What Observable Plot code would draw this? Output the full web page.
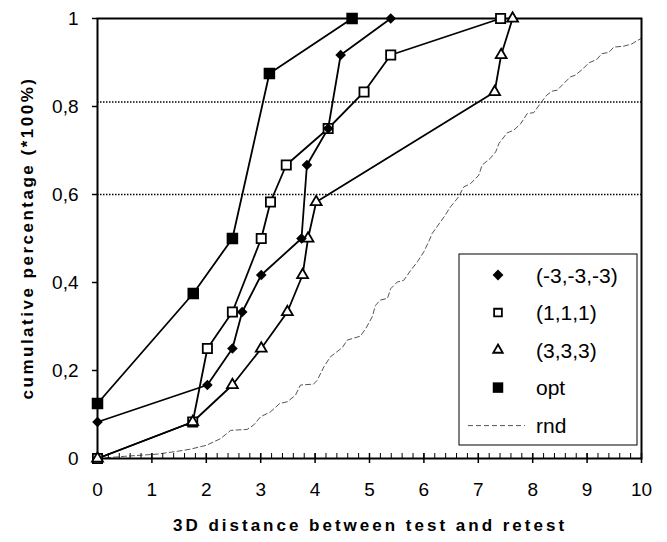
<!DOCTYPE html>
<html><head><meta charset="utf-8">
<script src="https://cdn.jsdelivr.net/npm/d3@7"></script>
<script src="https://cdn.jsdelivr.net/npm/@observablehq/plot@0.6"></script>
<style>
html,body{margin:0;padding:0;background:#fff;}
#chart{width:667px;height:542px;}
</style></head><body><div id="chart"></div>
<script>
// ---- data ----
const seriesNames = ["(-3,-3,-3)", "(1,1,1)", "(3,3,3)", "opt", "rnd"];
const diamondX = [0, 2.02, 2.48, 2.66, 3.01, 3.75, 3.85, 4.24, 4.47, 5.39];
const diamondY = [0.083, 0.167, 0.25, 0.333, 0.417, 0.5, 0.667, 0.75, 0.917, 1];
const squareX = [0, 1.75, 2.02, 2.48, 3.01, 3.18, 3.47, 4.24, 4.90, 5.39, 7.41];
const squareY = [0, 0.083, 0.25, 0.333, 0.5, 0.583, 0.667, 0.75, 0.833, 0.917, 1];
const triX = [0, 1.75, 2.48, 3.01, 3.49, 3.77, 3.87, 4.02, 7.30, 7.42, 7.63];
const triY = [0, 0.083, 0.167, 0.25, 0.333, 0.417, 0.5, 0.583, 0.833, 0.917, 1];
const optX = [0, 1.76, 2.48, 3.16, 4.68];
const optY = [0.125, 0.375, 0.5, 0.875, 1];
const rndX = [0, 0.5, 1.1, 1.5, 1.7, 2.0, 2.26, 2.45, 2.75, 2.87, 3.0, 3.18, 3.35, 3.49, 3.64, 3.73, 3.97, 4.04, 4.16, 4.28, 4.5, 4.59, 4.83, 4.93, 5.05, 5.11, 5.2, 5.33, 5.39, 5.51, 5.63, 5.76, 5.88, 6.0, 6.1, 6.15, 6.37, 6.49, 6.64, 6.73, 6.86, 7.01, 7.07, 7.22, 7.32, 7.38, 7.53, 7.65, 7.78, 7.9, 8.02, 8.14, 8.26, 8.36, 8.45, 8.57, 8.69, 8.78, 8.91, 9.03, 9.18, 9.27, 9.4, 9.49, 9.67, 9.82, 9.91, 10];
const rndY = [0, 0.005, 0.01, 0.017, 0.021, 0.03, 0.045, 0.064, 0.066, 0.076, 0.095, 0.106, 0.125, 0.129, 0.144, 0.167, 0.169, 0.178, 0.208, 0.231, 0.252, 0.269, 0.278, 0.295, 0.322, 0.348, 0.36, 0.364, 0.386, 0.401, 0.405, 0.428, 0.447, 0.47, 0.496, 0.511, 0.549, 0.572, 0.595, 0.617, 0.625, 0.644, 0.667, 0.682, 0.697, 0.716, 0.74, 0.746, 0.761, 0.784, 0.786, 0.807, 0.826, 0.835, 0.837, 0.852, 0.867, 0.871, 0.884, 0.899, 0.907, 0.92, 0.923, 0.935, 0.937, 0.942, 0.949, 0.955];
const xMajorTicks = [0,1,2,3,4,5,6,7,8,9,10];
const xMinorTicks = d3.range(0, 51).map(i => i / 5);
const yTicks = [0, 0.2, 0.4, 0.6, 0.8, 1];
const gridYValues = [0.6, 0.81];
const xTitle = "3D distance between test and retest";
const yTitle = "cumulative percentage (*100%)";

// ---- build ----
const pts = (xs, ys) => xs.map((x, i) => ({x, y: ys[i]}));
const diamonds = pts(diamondX, diamondY);
const squares = pts(squareX, squareY);
const tris = pts(triX, triY);
const opts = pts(optX, optY);
const rnd = pts(rndX, rndY);
const fmtY = d => d === 0 ? "0" : d === 1 ? "1" : d.toFixed(1).replace(".", ",");
const FONT = "'Liberation Sans', Arial, Helvetica, sans-serif";
const LW = 1.8;

const plot = Plot.plot({
  width: 667, height: 542,
  marginLeft: 97, marginRight: 26, marginTop: 18, marginBottom: 84,
  x: {domain: [0, 10], axis: null, label: null},
  y: {domain: [0, 1], axis: null, label: null},
  style: {fontFamily: FONT, fontSize: "19px", background: "white", color: "black", overflow: "visible"},
  marks: [
    Plot.ruleY(gridYValues, {stroke: "black", strokeWidth: 1.5, strokeDasharray: "1.5,1.5"}),
    Plot.line(rnd, {x: "x", y: "y", stroke: "#555", strokeWidth: 1, strokeDasharray: "5,3"}),
    Plot.frame({stroke: "black", strokeWidth: 2}),
    Plot.axisY({ticks: yTicks, tickSize: 5, tickFormat: () => "", label: null, strokeWidth: 1.5}),
    Plot.axisX({ticks: xMajorTicks, tickSize: 5, tickFormat: () => "", label: null, strokeWidth: 1.5}),
    Plot.axisX({ticks: xMajorTicks, tickSize: -5, tickFormat: () => "", label: null, strokeWidth: 1.5}),
    Plot.axisX({ticks: xMinorTicks, tickSize: -5, tickFormat: () => "", label: null, strokeWidth: 1}),
    Plot.text(yTicks, {y: d => d, text: fmtY, frameAnchor: "left", dx: -19, textAnchor: "end", lineAnchor: "middle", fontSize: 19, fill: "black"}),
    Plot.text(xMajorTicks, {x: d => d, text: d => String(d), frameAnchor: "bottom", dy: 31, textAnchor: "middle", lineAnchor: "middle", fontSize: 19, fill: "black"}),
    Plot.line(squares, {x: "x", y: "y", stroke: "black", strokeWidth: LW}),
    Plot.line(tris, {x: "x", y: "y", stroke: "black", strokeWidth: LW}),
    Plot.line(diamonds, {x: "x", y: "y", stroke: "black", strokeWidth: LW}),
    Plot.line(opts, {x: "x", y: "y", stroke: "black", strokeWidth: LW}),
    Plot.dot(squares, {x: "x", y: "y", symbol: "square", r: 5.2, fill: "white", stroke: "black", strokeWidth: 1.8}),
    Plot.dot(tris, {x: "x", y: "y", symbol: "triangle2", r: 5.2, fill: "white", stroke: "black", strokeWidth: 1.8}),
    Plot.dot(diamonds, {x: "x", y: "y", symbol: "diamond2", r: 4.8, fill: "black", stroke: "none"}),
    Plot.dot(opts, {x: "x", y: "y", symbol: "square", r: 6.5, fill: "black", stroke: "none"})
  ]
});
document.getElementById("chart").appendChild(plot);

// ---- titles & legend ----
const svg = d3.select(plot);
svg.append("text").attr("x", 370).attr("y", 531).attr("text-anchor", "middle")
  .attr("font-family", FONT).attr("font-size", 17).attr("font-weight", "bold")
  .attr("letter-spacing", "3px").attr("fill", "black").text(xTitle);
svg.append("text").attr("transform", "translate(33,238) rotate(-90)").attr("text-anchor", "middle")
  .attr("font-family", FONT).attr("font-size", 17).attr("font-weight", "bold")
  .attr("letter-spacing", "2.5px").attr("fill", "black").text(yTitle);

const lg = svg.append("g");
lg.append("rect").attr("x", 459).attr("y", 254).attr("width", 178).attr("height", 191)
  .attr("fill", "white").attr("stroke", "black").attr("stroke-width", 1);
const rowY = [275, 312.6, 350, 387.6, 425.6];
const symX = 498;
const sym = (type, size) => d3.symbol(type, size)();
lg.append("path").attr("transform", `translate(${symX},${rowY[0]})`).attr("d", sym(d3.symbolDiamond2, 75)).attr("fill", "black");
lg.append("path").attr("transform", `translate(${symX},${rowY[1]})`).attr("d", sym(d3.symbolSquare, 60)).attr("fill", "white").attr("stroke", "black").attr("stroke-width", 1.8);
lg.append("path").attr("transform", `translate(${symX},${rowY[2]})`).attr("d", sym(d3.symbolTriangle2, 65)).attr("fill", "white").attr("stroke", "black").attr("stroke-width", 1.8);
lg.append("path").attr("transform", `translate(${symX},${rowY[3]})`).attr("d", sym(d3.symbolSquare, 110)).attr("fill", "black");
lg.append("line").attr("x1", 468).attr("x2", 525).attr("y1", rowY[4]).attr("y2", rowY[4])
  .attr("stroke", "#555").attr("stroke-width", 1).attr("stroke-dasharray", "5,3");
seriesNames.forEach((n, i) => {
  lg.append("text").attr("x", 536).attr("y", rowY[i]).attr("dy", "0.36em").attr("text-anchor", "start")
    .attr("font-family", FONT).attr("font-size", 21).attr("fill", "black").text(n);
});
</script>
</body></html>
